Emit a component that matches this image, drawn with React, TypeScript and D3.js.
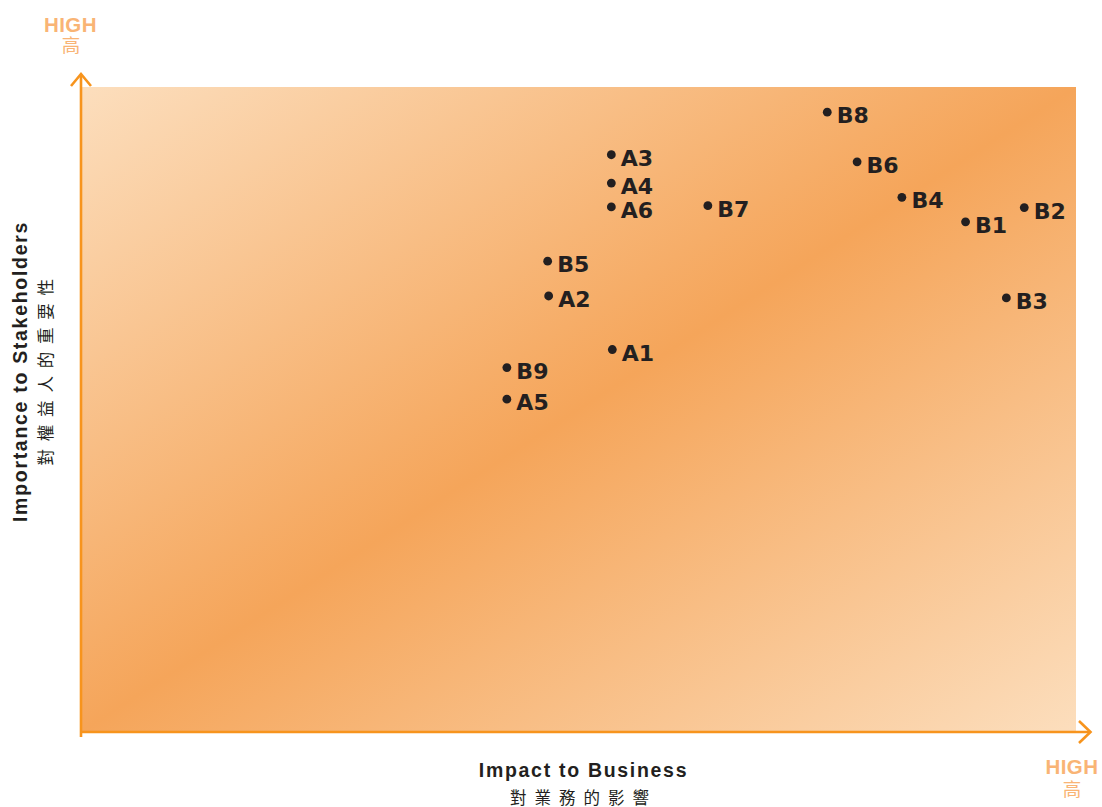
import React from "react";
import * as d3 from "d3";

const labels = ["A3", "A4", "A6", "B7", "B8", "B6", "B4", "B1", "B2", "B3", "B5", "A2", "A1", "B9", "A5"];
const impact = [53.3, 53.3, 53.3, 63.0, 75.0, 78.0, 82.5, 88.9, 94.8, 93.0, 46.9, 47.0, 53.4, 42.8, 42.8];
const importance = [89.5, 85.1, 81.4, 81.6, 96.1, 88.4, 82.9, 79.1, 81.3, 67.3, 73.0, 67.6, 59.3, 56.5, 51.6];

const xTitle = "Impact to Business";
const xTitleZh = "對業務的影響";
const yTitle = "Importance to  Stakeholders";
const yTitleZh = "對權益人的重要性";
const highLabel = "HIGH";
const highZh = "高";

const W = 1102;
const H = 807;
const left = 81;
const right = 1076;
const top = 87;
const bottom = 732;

const AXIS = "#f7941d";
const HIGH_COLOR = "#f9b475";
const INK = "#231f20";
const LATIN = "'Liberation Sans', Arial, Helvetica, sans-serif";
const LABEL_FONT = "'DejaVu Sans', 'Liberation Sans', sans-serif";
const CJK = "'Noto Sans CJK TC', 'Noto Sans CJK SC', sans-serif";

export default function App() {
  const x = d3.scaleLinear().domain([0, 100]).range([left, right]);
  const y = d3.scaleLinear().domain([0, 100]).range([bottom, top]);
  const points = labels.map((l, i) => ({ label: l, x: impact[i], y: importance[i] }));

  const yArrow = d3.line()([[left - 10, 86], [left, 74], [left + 10, 86]]) as string;
  const xArrow = d3.line()([[1079, bottom - 11], [1090.5, bottom], [1079, bottom + 11]]) as string;

  return (
    <svg
      width={W}
      height={H}
      style={{ position: "absolute", left: 0, top: 0, background: "#fff" }}
    >
      <defs>
        <linearGradient id="bg" x1="0" y1="0" x2="1" y2="1">
          <stop offset="0%" stopColor="#fcdebd" />
          <stop offset="50%" stopColor="#f5a55a" />
          <stop offset="100%" stopColor="#fcdebd" />
        </linearGradient>
      </defs>
      <rect
        x={x(0)}
        y={y(100)}
        width={x(100) - x(0)}
        height={y(0) - y(100)}
        fill="url(#bg)"
      />
      {/* axes */}
      <line x1={left} y1={75} x2={left} y2={737} stroke={AXIS} strokeWidth={2.6} />
      <line x1={left} y1={bottom} x2={1090} y2={bottom} stroke={AXIS} strokeWidth={2.6} />
      <path d={yArrow} fill="none" stroke={AXIS} strokeWidth={2.6} />
      <path d={xArrow} fill="none" stroke={AXIS} strokeWidth={2.6} />

      {/* HIGH labels */}
      <text x={70.5} y={32.3} textAnchor="middle" fontFamily={LATIN} fontWeight="bold" fontSize={20.5} letterSpacing={0.4} fill={HIGH_COLOR}>
        {highLabel}
      </text>
      <text x={71} y={52} textAnchor="middle" fontFamily={CJK} fontSize={18.5} fill={HIGH_COLOR}>
        {highZh}
      </text>
      <text x={1072} y={774} textAnchor="middle" fontFamily={LATIN} fontWeight="bold" fontSize={20.5} letterSpacing={0.4} fill={HIGH_COLOR}>
        {highLabel}
      </text>
      <text x={1072} y={795.5} textAnchor="middle" fontFamily={CJK} fontSize={18.5} fill={HIGH_COLOR}>
        {highZh}
      </text>

      {/* x title */}
      <text x={583.5} y={776.7} textAnchor="middle" fontFamily={LATIN} fontWeight="bold" fontSize={19.5} letterSpacing={1.7} fill={INK}>
        {xTitle}
      </text>
      <text x={510} y={803.5} textAnchor="start" fontFamily={CJK} fontSize={16.5} letterSpacing={8} fill={INK}>
        {xTitleZh}
      </text>

      {/* y title */}
      <text
        transform={`translate(27.3, 371.5) rotate(-90)`}
        textAnchor="middle"
        fontFamily={LATIN}
        fontWeight="bold"
        fontSize={19.5}
        letterSpacing={1.7}
        fill={INK}
      >
        {yTitle}
      </text>
      <text
        transform={`translate(52, 465.5) rotate(-90)`}
        textAnchor="start"
        fontFamily={CJK}
        fontSize={16.5}
        letterSpacing={7.8}
        fill={INK}
      >
        {yTitleZh}
      </text>

      {/* points */}
      {points.map((p) => (
        <g key={p.label}>
          <circle cx={x(p.x)} cy={y(p.y)} r={4.4} fill={INK} />
          <text x={x(p.x) + 9.5} y={y(p.y) + 11} fontFamily={LABEL_FONT} fontWeight="bold" fontSize={22} fill={INK}>
            {p.label}
          </text>
        </g>
      ))}
    </svg>
  );
}
